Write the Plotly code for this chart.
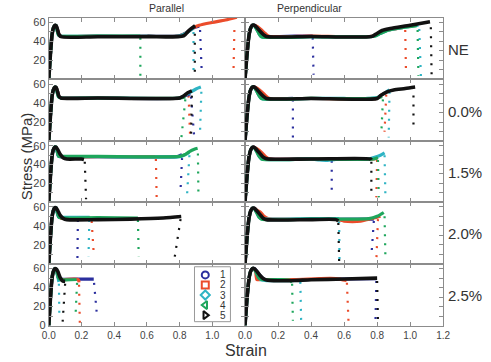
import plotly.graph_objects as go

SPECIMENS = ["1", "2", "3", "4", "5"]
COLORS = ["#2b2f9e", "#eb4c2b", "#2fb4c4", "#1ea65c", "#111111"]
SYMBOLS = ["circle-open", "square-open", "diamond-open", "triangle-left-open", "triangle-right-open"]
COLUMNS = ["Parallel", "Perpendicular"]
ROWS = ["NE", "0.0%", "1.5%", "2.0%", "2.5%"]
X_TICKS = [0, 0.2, 0.4, 0.6, 0.8, 1.0, 1.2]
X_TICK_LABELS = ["0.0", "0.2", "0.4", "0.6", "0.8", "1.0", "1.2"]
Y_TICKS = [0, 10, 20, 30, 40, 50, 60]
Y_TICK_LABELS = ["0", "", "20", "", "40", "", "60"]

# each curve: (strain, stress, fracture drop [strain_top, stress_top, strain_bottom, stress_bottom])
par_ne = [
    ([0, .01, .02, .028, .037, .045, .054, .063, .075, .3, .6, .8, .84, .88, .92],
     [0, 26, 47, 54, 56.8, 56.5, 52, 47, 45.5, 45.5, 45.5, 46, 49, 54, 56], [.925, 52, .935, 9]),
    ([0, .01, .02, .028, .037, .045, .054, .063, .075, .3, .6, .8, .84, .88, .92, 1.0, 1.08, 1.15],
     [0, 26, 47, 54, 56.8, 56.5, 52, 47, 45.5, 45.5, 45.5, 46, 49, 54, 57, 60, 62.5, 65.5], [1.135, 52, 1.13, 12]),
    ([0, .01, .02, .028, .037, .045, .052, .06, .075, .3, .6, .8, .84, .885],
     [0, 26, 47, 54, 56.8, 56.5, 51, 46.5, 45.5, 45.5, 45.5, 46, 49, 54], [.885, 50, .885, 8]),
    ([0, .01, .02, .028, .037, .045, .052, .06, .075, .3, .56],
     [0, 26, 47, 54, 56.8, 56.5, 51, 46.5, 45.5, 45.5, 45.5], [.56, 44, .56, 4]),
    ([0, .01, .02, .028, .037, .045, .054, .063, .075, .3, .6, .825, .86, .895],
     [0, 26, 47, 54, 56.8, 56.5, 52, 47, 45, 45, 45, 46, 52, 56.5], [.893, 48, .893, 7]),
]
per_ne = [
    ([0, .012, .024, .034, .045, .056, .07, .09, .11, .13, .3, .41],
     [0, 26, 46, 54, 57, 57, 55, 51, 47.5, 45.5, 45.5, 45.5], [.41, 44, .415, 5]),
    ([0, .012, .024, .034, .045, .056, .075, .1, .125, .145, .4, .77, .8, .84, .9, .965],
     [0, 26, 46, 54, 57, 57, 55.5, 52, 48, 45.5, 45.5, 45.5, 48, 51, 53, 55], [.97, 52, .975, 5]),
    ([0, .012, .024, .034, .045, .056, .07, .085, .1, .4, .78, .82, .87, .95, 1.05],
     [0, 26, 46, 54, 57, 56.5, 53, 48, 45, 45, 45.5, 48.5, 52, 54.5, 57], [1.055, 53, 1.065, 3]),
    ([0, .012, .024, .034, .045, .056, .07, .085, .1, .4, .78, .82, .87, .95, 1.04],
     [0, 26, 46, 54, 57, 56.5, 53, 48, 45, 45, 45.5, 48.5, 52, 54.5, 56.5], [1.045, 52, 1.05, 4]),
    ([0, .012, .024, .034, .045, .056, .07, .09, .11, .13, .4, .765, .79, .83, .88, 1.0, 1.12],
     [0, 26, 46, 54, 57, 57, 55, 51, 47.5, 45.2, 45.2, 45.2, 47.5, 51.5, 53.5, 57, 60.8], [1.125, 55, 1.13, 3]),
]
par_00 = [
    ([0, .01, .02, .028, .037, .045, .054, .063, .075, .3, .8, .83, .865],
     [0, 26, 47, 54, 56.8, 56.5, 52, 47, 45.5, 45.5, 45.5, 47.5, 50], [.87, 47, .89, 3]),
    ([0, .01, .02, .028, .037, .045, .054, .063, .075, .3, .8, .83, .85],
     [0, 26, 47, 54, 56.8, 56.5, 52, 47, 45.5, 45.5, 45.5, 48, 50], [.855, 48, .865, 2]),
    ([0, .01, .02, .028, .037, .045, .052, .06, .075, .3, .8, .83, .86, .9, .93],
     [0, 26, 47, 54, 56.8, 56.5, 51, 46.5, 45.5, 45.5, 45.5, 48, 51, 55, 57], [.933, 52, .924, 5]),
    ([0, .01, .02, .028, .037, .045, .052, .06, .075, .3, .8, .835],
     [0, 26, 47, 54, 56.8, 56.5, 51, 46.5, 45.5, 45.5, 45.5, 46.5], [.835, 44, .81, 2]),
    ([0, .01, .02, .028, .037, .045, .054, .063, .075, .3, .8, .82, .85, .875],
     [0, 26, 47, 54, 56.8, 56.5, 52, 47, 45.5, 45.5, 45.5, 47, 51, 53], [.875, 48, .87, 5]),
]
per_00 = [
    ([0, .012, .024, .034, .045, .056, .07, .09, .11, .13, .29],
     [0, 26, 46, 54, 57, 57, 55, 51, 47.5, 45.2, 45.2], [.29, 44, .29, 3]),
    ([0, .012, .024, .034, .045, .056, .075, .1, .125, .145, .4, .8, .82, .85, .87],
     [0, 26, 46, 54, 57, 57, 55.5, 52, 48, 45.2, 45.2, 45.2, 48, 51, 52.5], [.855, 49, .845, 10]),
    ([0, .012, .024, .034, .045, .056, .07, .085, .1, .4, .6, .68, .74, .8, .84, .875],
     [0, 26, 46, 54, 57, 56.5, 53, 48, 45, 45, 45, 44, 45, 46, 50, 54], [.875, 52, .87, 4]),
    ([0, .012, .024, .034, .045, .056, .07, .085, .1, .4, .8, .83],
     [0, 26, 46, 54, 57, 56.5, 53, 48, 45, 45, 45.5, 47], [.835, 44, .825, 7]),
    ([0, .012, .024, .034, .045, .056, .07, .09, .11, .13, .4, .8, .82, .86, .9, .97, 1.03],
     [0, 26, 46, 54, 57, 57, 55, 51, 47.5, 45, 45, 45, 48, 52, 54, 55.5, 57], [1.02, 48, 1.02, 12]),
]
par_15 = [
    ([0, .01, .02, .028, .037, .045, .052, .06, .07, .3, .78, .8, .815],
     [0, 27, 49, 56, 58.8, 58.5, 54, 49, 48.5, 48.5, 48.5, 49.5, 50.5], [.815, 47, .805, 10]),
    ([0, .01, .02, .028, .037, .045, .055, .065, .075, .3, .65],
     [0, 27, 49, 56, 58.8, 58.5, 55, 50, 48.5, 48.5, 48.5], [.655, 46, .66, 2]),
    ([0, .01, .02, .028, .037, .045, .052, .06, .07, .3, .8, .82, .85, .86],
     [0, 27, 49, 56, 58.8, 58.5, 54, 49, 48.5, 48.5, 48.5, 49.5, 52, 53], [.86, 50, .845, 6]),
    ([0, .01, .02, .028, .037, .045, .052, .06, .07, .3, .8, .83, .86, .89, .91],
     [0, 27, 49, 56, 58.8, 58.5, 54, 49, 48.8, 48.8, 48.8, 50.5, 54, 56.5, 57.5], [.912, 52, .915, 10]),
    ([0, .01, .02, .028, .037, .045, .055, .07, .09, .11, .2, .215],
     [0, 27, 49, 56, 58.8, 58.5, 56, 51, 47, 46, 46, 45.5], [.22, 43, .228, 3]),
]
per_15 = [
    ([0, .012, .024, .034, .045, .056, .07, .09, .11, .13, .4, .525],
     [0, 27, 48, 55.5, 58.5, 58.5, 56, 52, 48, 46.2, 46, 46], [.525, 44, .525, 10]),
    ([0, .012, .024, .034, .045, .056, .075, .1, .125, .145, .4, .78, .8],
     [0, 27, 48, 55.5, 58.5, 58.5, 56.5, 53, 48.5, 46.2, 46, 46, 47], [.8, 45, .795, 5]),
    ([0, .012, .024, .034, .045, .056, .07, .085, .1, .4, .45, .5, .55, .75, .78, .82, .845],
     [0, 27, 48, 55.5, 58.5, 58, 54, 49, 46, 46, 45, 44.5, 45.5, 46, 47.5, 50, 52.5], [.845, 50, .85, 7]),
    ([0, .012, .024, .034, .045, .056, .07, .085, .1, .4, .78, .805],
     [0, 27, 48, 55.5, 58.5, 58, 54, 49, 46, 46, 46, 47.5], [.805, 45, .81, 5]),
    ([0, .012, .024, .034, .045, .056, .07, .09, .11, .13, .4, .76, .765],
     [0, 27, 48, 55.5, 58.5, 58.5, 56, 52, 48, 46.2, 46, 46, 45], [.765, 43, .765, 5]),
]
par_20 = [
    ([0, .01, .02, .028, .037, .045, .052, .06, .07, .175],
     [0, 27, 49, 56, 59, 58.7, 54, 49.5, 49, 48.5], [.178, 46, .175, 2]),
    ([0, .01, .02, .028, .037, .045, .055, .065, .075, .25, .26],
     [0, 27, 49, 56, 59, 58.7, 55, 50, 48, 48, 46], [.262, 45, .276, 8]),
    ([0, .01, .02, .028, .037, .045, .052, .06, .07, .25],
     [0, 27, 49, 56, 59, 58.7, 54, 49.5, 49, 49], [.248, 46, .243, 8]),
    ([0, .01, .02, .028, .037, .045, .052, .06, .07, .3, .545],
     [0, 27, 49, 56, 59, 58.7, 54, 49.5, 48.5, 48.5, 48], [.545, 46, .55, 8]),
    ([0, .01, .02, .028, .037, .045, .055, .07, .09, .11, .3, .5, .7, .81],
     [0, 27, 49, 56, 59, 58.7, 56, 51, 47.5, 46.5, 46.5, 47, 48.2, 49.8], [.806, 47, .77, 7]),
]
per_20 = [
    ([0, .012, .024, .034, .045, .056, .07, .09, .11, .13, .4, .78],
     [0, 27, 48, 55.5, 58.5, 58.5, 56, 52, 48, 46.8, 46.8, 47], [.78, 45, .765, 8]),
    ([0, .012, .024, .034, .045, .056, .075, .095, .115, .14, .3, .55, .6, .65, .7, .75, .8, .82],
     [0, 27, 48, 55.5, 58.5, 58.5, 56, 54, 50, 47.5, 47, 47, 45, 44.5, 45, 47, 49, 50], [.805, 47, .795, 2]),
    ([0, .012, .024, .034, .045, .056, .07, .085, .1, .4, .57],
     [0, 27, 48, 55.5, 58.5, 58, 54, 49, 47.5, 47.5, 47.5], [.57, 45, .572, 5]),
    ([0, .012, .024, .034, .045, .056, .07, .085, .1, .4, .6, .75, .8, .84],
     [0, 27, 48, 55.5, 58.5, 58, 54, 49, 47, 47, 47, 47.5, 50, 54], [.845, 50, .85, 8]),
    ([0, .012, .024, .034, .045, .056, .07, .09, .11, .13, .4, .55, .565],
     [0, 27, 48, 55.5, 58.5, 58.5, 56, 52, 48, 46.5, 46.5, 46.5, 45], [.565, 43, .57, 3]),
]
par_25 = [
    ([0, .01, .02, .028, .037, .045, .052, .06, .07, .2, .275],
     [0, 28, 50, 57, 60, 59.5, 55, 50, 49, 49, 49], [.277, 45, .296, 8]),
    ([0, .01, .02, .028, .037, .045, .052, .06, .07, .18, .185],
     [0, 28, 50, 57, 60, 59.5, 55, 50, 48.5, 48.5, 45.5], [.185, 43, .19, 2]),
    ([0, .01, .02, .028, .037, .045, .052, .058, .062],
     [0, 28, 50, 57, 60, 59.5, 54, 49, 46], [.062, 44, .065, 8]),
    ([0, .01, .02, .028, .037, .045, .052, .06, .07, .17],
     [0, 28, 50, 57, 60, 59.5, 55, 50, 48.5, 48.5], [.173, 45, .163, 8]),
    ([0, .01, .02, .028, .037, .045, .055, .07, .085, .1],
     [0, 28, 50, 57, 60, 59.5, 57, 50.5, 47, 46.5], [.1, 44, .084, 2]),
]
per_25 = [
    ([0, .012, .024, .034, .045, .056, .07, .09, .11, .13, .4, .795],
     [0, 28, 49, 57, 60, 60, 57.5, 53, 49.5, 48, 48.5, 49.5], [.795, 47, .79, 5]),
    ([0, .012, .024, .034, .045, .056, .065, .072, .1, .3, .45, .55, .615],
     [0, 28, 49, 57, 60, 59.5, 56, 48.5, 48.5, 48.5, 49.5, 49.5, 47.5], [.617, 45, .627, 2]),
    ([0, .012, .024, .034, .045, .056, .07, .085, .1, .335],
     [0, 28, 49, 57, 60, 59.5, 55, 50, 48, 47.5], [.335, 46, .34, 3]),
    ([0, .012, .024, .034, .045, .056, .07, .085, .1, .27, .285],
     [0, 28, 49, 57, 60, 59.5, 55, 50, 48.5, 48, 45.5], [.285, 44, .29, 5]),
    ([0, .012, .024, .034, .045, .056, .07, .09, .11, .13, .2, .3, .4, .6, .8],
     [0, 28, 49, 57, 60, 60, 57.5, 53, 49.5, 48, 47.2, 47.5, 48.3, 49, 50], [.8, 47, .805, 3]),
]

PANELS = [[par_ne, per_ne], [par_00, per_00], [par_15, per_15], [par_20, per_20], [par_25, per_25]]

W, H = 491, 362
X_PX = [(43, 245), (245, 449)]
ROW_PX = [(17, 80), (80, 143), (143, 205), (205, 268), (268, 331)]

fig = go.Figure()
layout = dict(width=W, height=H, margin=dict(l=0, r=0, t=0, b=0), showlegend=False,
              paper_bgcolor="white", plot_bgcolor="white",
              font=dict(family="Liberation Sans, Arial, sans-serif", color="#333333"))
axis_common = dict(showline=True, linecolor="#8c8c8c", linewidth=1, mirror="ticks", ticks="inside",
                   ticklen=4, tickcolor="#8c8c8c", showgrid=False, zeroline=False, fixedrange=True)

for r in range(5):
    for c in range(2):
        idx = r * 2 + c + 1
        xs = "" if idx == 1 else str(idx)
        xd = [X_PX[c][0] / W, X_PX[c][1] / W]
        yd = [1 - ROW_PX[r][1] / H, 1 - ROW_PX[r][0] / H]
        xlabels = [lab if (r == 4 and not (c == 0 and v == 1.2)) else "" for v, lab in zip(X_TICKS, X_TICK_LABELS)]
        ylabels = [lab if (c == 0 and (v != 0 or r == 4)) else "" for v, lab in zip(Y_TICKS, Y_TICK_LABELS)]
        layout["xaxis" + xs] = dict(axis_common, domain=xd, range=[0, 1.2], anchor="y" + xs,
                                    tickvals=X_TICKS, ticktext=xlabels, tickfont=dict(size=10, color="#444"))
        layout["yaxis" + xs] = dict(axis_common, domain=yd, range=[0, 65], anchor="x" + xs,
                                    tickvals=Y_TICKS, ticktext=ylabels, tickfont=dict(size=11, color="#444"))
        curves = PANELS[r][c]
        for k, (sx, sy, drop) in enumerate(curves):
            fig.add_trace(go.Scatter(x=[drop[0], drop[2]], y=[drop[1], drop[3]], mode="lines",
                                     line=dict(color=COLORS[k], width=2.2, dash="2px,7px"),
                                     xaxis="x" + xs, yaxis="y" + xs, hoverinfo="skip"))
        for k, (sx, sy, drop) in enumerate(curves):
            fig.add_trace(go.Scatter(x=sx, y=sy, mode="lines",
                                     line=dict(color=COLORS[k], width=3.6 if k == 4 else 3.2,
                                               shape="spline", smoothing=0.7),
                                     xaxis="x" + xs, yaxis="y" + xs, hoverinfo="skip"))

# legend inset
layout["xaxis11"] = dict(domain=[193 / W, 230 / W], range=[0, 1], visible=False, anchor="y11", fixedrange=True)
layout["yaxis11"] = dict(domain=[1 - 327 / H, 1 - 271 / H], range=[5.65, 0.19], visible=False, anchor="x11", fixedrange=True)
fig.add_trace(go.Scatter(x=[0.3] * 5, y=list(range(1, 6)), mode="markers",
                         marker=dict(symbol=SYMBOLS, color=COLORS, size=7, line=dict(width=2, color=COLORS)),
                         xaxis="x11", yaxis="y11", hoverinfo="skip"))
annotations = []
for i, s in enumerate(SPECIMENS):
    annotations.append(dict(x=0.78, y=i + 1, xref="x11", yref="y11", text=s, showarrow=False,
                            xanchor="center", yanchor="middle", font=dict(size=10, color="#333")))
shapes = [dict(type="rect", xref="paper", yref="paper", x0=193 / W, x1=230 / W, y0=1 - 327 / H, y1=1 - 271 / H,
               line=dict(color="#999", width=1), fillcolor="rgba(0,0,0,0)", layer="above")]

for c, title in enumerate(COLUMNS):
    annotations.append(dict(x=(X_PX[c][0] + X_PX[c][1]) / 2 / W, y=1 - 7 / H, xref="paper", yref="paper",
                            text=title, showarrow=False, yanchor="middle", font=dict(size=10.5, color="#333")))
for r, lab in enumerate(ROWS):
    annotations.append(dict(x=452 / W, y=1 - ((ROW_PX[r][0] + ROW_PX[r][1]) / 2 + 1) / H, xref="paper", yref="paper",
                            text=lab, showarrow=False, xanchor="left", yanchor="middle", font=dict(size=15, color="#333")))
annotations.append(dict(x=10 / W, y=1 - 158 / H, xref="paper", yref="paper", text="Stress (MPa)", textangle=-90,
                        showarrow=False, yanchor="middle", font=dict(size=15, color="#333")))
annotations.append(dict(x=246 / W, y=1 - 346 / H, xref="paper", yref="paper", text="Strain", yanchor="top",
                        showarrow=False, font=dict(size=16, color="#333")))

layout["annotations"] = annotations
layout["shapes"] = shapes
fig.update_layout(**layout)
fig.write_html("out.html")
